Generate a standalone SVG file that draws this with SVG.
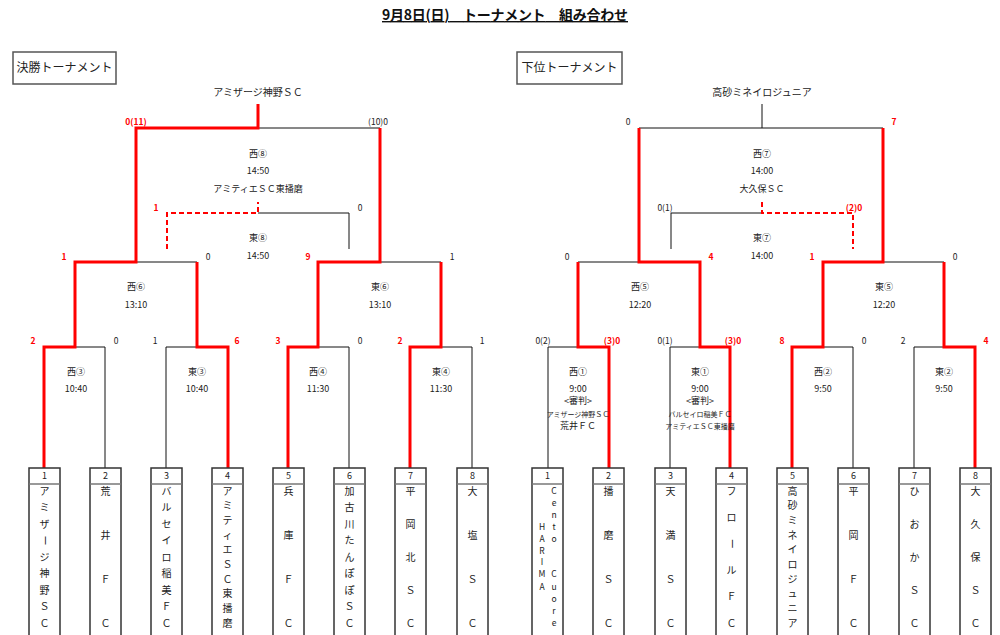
<svg xmlns="http://www.w3.org/2000/svg" width="1000" height="635" viewBox="0 0 1000 635">
<style>
text{font-family:"Noto Sans CJK JP","Liberation Sans",sans-serif;font-size:9px;text-anchor:middle;fill:#222}
.k{stroke:#111;stroke-width:1;fill:none}
.r{stroke:#ff0000;stroke-width:3;fill:none;stroke-linejoin:miter}
.rd{stroke:#ff0000;stroke-width:2;fill:none;stroke-dasharray:5,3}
.s{font-size:8.5px}
.sr{font-size:8.5px;font-weight:bold;fill:#ff0000}
.nm{font-size:10px}
.sm{font-size:7px}
.lbl{fill:#fff;stroke:#555;stroke-width:1.5}
.box{fill:#fff;stroke:#333;stroke-width:1.5}
.sep{stroke:#777;stroke-width:1.5}
.v{font-size:10px}
.vl{font-size:8.5px}
.ttl{font-size:14px;font-weight:bold;text-decoration:underline;fill:#111}
</style>

<text class="ttl" x="505" y="20" textLength="246" lengthAdjust="spacing">9月8日(日)　トーナメント　組み合わせ</text>

<g id="label-final"><rect class="lbl" x="13" y="52" width="103" height="32"/><text x="64.5" y="72" style="font-size:12px">決勝トーナメント</text></g>
<g id="label-lower"><rect class="lbl" x="517" y="52" width="105" height="32"/><text x="569.5" y="72" style="font-size:12px">下位トーナメント</text></g>

<g id="connectors">
  <path class="k" d="M105,468V347H75M166,468V347H197M349,468V347H318M472,468V347H441M136,262H197M380,262H441M258,128H380M258,213H349V249"/>
  <path class="r" d="M44,468V347H75V262H136V128H258V104"/>
  <path class="r" d="M228,468V347H197V262"/>
  <path class="r" d="M288,468V347H318V262H380V128"/>
  <path class="r" d="M410,468V347H441V262"/>
  <path class="rd" d="M167,249V213H258V202"/>
  <path class="k" d="M548,468V347H578M670,468V347H700M853,468V347H823M914,468V347H944M578,262H639M883,262H944M639,128H883M762,128V104M671,249V213H762"/>
  <path class="r" d="M609,468V347H578V262"/>
  <path class="r" d="M730,468V347H700V262H639V128"/>
  <path class="r" d="M792,468V347H823V262H883V128"/>
  <path class="r" d="M975,468V347H944V262"/>
  <path class="rd" d="M762,202V213H853V249"/>
</g>

<g id="left-final">
  <text class="nm" x="258" y="96">アミザージ神野ＳＣ</text>
  <text class="sr" x="136" y="125">0(11)</text>
  <text class="s" x="378" y="125">(10)0</text>
  <text x="258" y="157">西⑧</text>
  <text x="258" y="174">14:50</text>
  <text x="258" y="192">アミティエＳＣ東播磨</text>
</g>
<g id="left-third">
  <text class="sr" x="156" y="211">1</text>
  <text class="s" x="360" y="211">0</text>
  <text x="258" y="241">東⑧</text>
  <text x="258" y="259">14:50</text>
</g>
<g id="left-semis">
  <text class="sr" x="64" y="260">1</text>
  <text class="s" x="208" y="260">0</text>
  <text class="sr" x="308" y="260">9</text>
  <text class="s" x="452" y="260">1</text>
  <text x="136" y="290">西⑥</text><text x="136" y="308">13:10</text>
  <text x="380" y="290">東⑥</text><text x="380" y="308">13:10</text>
</g>
<g id="left-r1">
  <text class="sr" x="33" y="344">2</text>
  <text class="s" x="116" y="344">0</text>
  <text class="s" x="155" y="344">1</text>
  <text class="sr" x="237" y="344">6</text>
  <text class="sr" x="278" y="344">3</text>
  <text class="s" x="360" y="344">0</text>
  <text class="sr" x="400" y="344">2</text>
  <text class="s" x="482" y="344">1</text>
  <text x="76" y="375">西③</text><text x="76" y="392">10:40</text>
  <text x="197" y="375">東③</text><text x="197" y="392">10:40</text>
  <text x="318" y="375">西④</text><text x="318" y="392">11:30</text>
  <text x="441" y="375">東④</text><text x="441" y="392">11:30</text>
</g>

<g id="right-final">
  <text class="nm" x="762" y="96">高砂ミネイロジュニア</text>
  <text class="s" x="628" y="125">0</text>
  <text class="sr" x="894" y="125">7</text>
  <text x="762" y="157">西⑦</text>
  <text x="762" y="174">14:00</text>
  <text x="762" y="192">大久保ＳＣ</text>
</g>
<g id="right-third">
  <text class="s" x="665" y="211">0(1)</text>
  <text class="sr" x="854" y="211">(2)0</text>
  <text x="762" y="241">東⑦</text>
  <text x="762" y="259">14:00</text>
</g>
<g id="right-semis">
  <text class="s" x="567" y="260">0</text>
  <text class="sr" x="711" y="260">4</text>
  <text class="sr" x="812" y="260">1</text>
  <text class="s" x="955" y="260">0</text>
  <text x="640" y="290">西⑤</text><text x="640" y="308">12:20</text>
  <text x="884" y="290">東⑤</text><text x="884" y="308">12:20</text>
</g>
<g id="right-r1">
  <text class="s" x="543" y="344">0(2)</text>
  <text class="sr" x="612" y="344">(3)0</text>
  <text class="s" x="665" y="344">0(1)</text>
  <text class="sr" x="733" y="344">(3)0</text>
  <text class="sr" x="782" y="344">8</text>
  <text class="s" x="864" y="344">0</text>
  <text class="s" x="903" y="344">2</text>
  <text class="sr" x="986" y="344">4</text>
  <text x="578" y="375">西①</text><text x="578" y="392">9:00</text>
  <text x="578" y="404">&lt;審判&gt;</text>
  <text class="sm" x="578" y="416.5">アミザージ神野ＳＣ</text>
  <text x="578" y="429">荒井ＦＣ</text>
  <text x="700" y="375">東①</text><text x="700" y="392">9:00</text>
  <text x="700" y="404">&lt;審判&gt;</text>
  <text class="sm" x="700" y="416.5">バルセイロ稲美ＦＣ</text>
  <text class="sm" x="700" y="428.5">アミティエＳＣ東播磨</text>
  <text x="823" y="375">西②</text><text x="823" y="392">9:50</text>
  <text x="944" y="375">東②</text><text x="944" y="392">9:50</text>
</g>

<g id="L1"><rect class="box" x="29" y="468" width="31" height="180"/><line class="sep" x1="29" y1="484" x2="60" y2="484"/><text x="44.5" y="479">1</text>
<text class="v"><tspan x="44.5" y="494.5">ア</tspan><tspan x="44.5" y="511">ミ</tspan><tspan x="44.5" y="527.5">ザ</tspan><tspan x="44.5" y="560.5">ジ</tspan><tspan x="44.5" y="577">神</tspan><tspan x="44.5" y="593.5">野</tspan><tspan x="44.5" y="610">Ｓ</tspan><tspan x="44.5" y="626.5">Ｃ</tspan></text>
<text class="v" x="0" y="3.5" transform="translate(44.5,540.5) rotate(90)">ー</text></g>

<g id="L2"><rect class="box" x="90" y="468" width="31" height="180"/><line class="sep" x1="90" y1="484" x2="121" y2="484"/><text x="105.5" y="479">2</text>
<text class="v"><tspan x="105.5" y="494.5">荒</tspan><tspan x="105.5" y="538.5">井</tspan><tspan x="105.5" y="582.5">Ｆ</tspan><tspan x="105.5" y="626.5">Ｃ</tspan></text></g>

<g id="L3"><rect class="box" x="151" y="468" width="31" height="180"/><line class="sep" x1="151" y1="484" x2="182" y2="484"/><text x="166.5" y="479">3</text>
<text class="v"><tspan x="166.5" y="494.5">バ</tspan><tspan x="166.5" y="511">ル</tspan><tspan x="166.5" y="527.5">セ</tspan><tspan x="166.5" y="544">イ</tspan><tspan x="166.5" y="560.5">ロ</tspan><tspan x="166.5" y="577">稲</tspan><tspan x="166.5" y="593.5">美</tspan><tspan x="166.5" y="610">Ｆ</tspan><tspan x="166.5" y="626.5">Ｃ</tspan></text></g>

<g id="L4"><rect class="box" x="212" y="468" width="31" height="180"/><line class="sep" x1="212" y1="484" x2="243" y2="484"/><text x="227.5" y="479">4</text>
<text class="v"><tspan x="227.5" y="494.5">ア</tspan><tspan x="227.5" y="509.2">ミ</tspan><tspan x="227.5" y="523.8">テ</tspan><tspan x="227.5" y="538.5">ィ</tspan><tspan x="227.5" y="553.2">エ</tspan><tspan x="227.5" y="567.8">Ｓ</tspan><tspan x="227.5" y="582.5">Ｃ</tspan><tspan x="227.5" y="597.2">東</tspan><tspan x="227.5" y="611.8">播</tspan><tspan x="227.5" y="626.5">磨</tspan></text></g>

<g id="L5"><rect class="box" x="273" y="468" width="31" height="180"/><line class="sep" x1="273" y1="484" x2="304" y2="484"/><text x="288.5" y="479">5</text>
<text class="v"><tspan x="288.5" y="494.5">兵</tspan><tspan x="288.5" y="538.5">庫</tspan><tspan x="288.5" y="582.5">Ｆ</tspan><tspan x="288.5" y="626.5">Ｃ</tspan></text></g>

<g id="L6"><rect class="box" x="334" y="468" width="31" height="180"/><line class="sep" x1="334" y1="484" x2="365" y2="484"/><text x="349.5" y="479">6</text>
<text class="v"><tspan x="349.5" y="494.5">加</tspan><tspan x="349.5" y="511">古</tspan><tspan x="349.5" y="527.5">川</tspan><tspan x="349.5" y="544">た</tspan><tspan x="349.5" y="560.5">ん</tspan><tspan x="349.5" y="577">ぽ</tspan><tspan x="349.5" y="593.5">ぽ</tspan><tspan x="349.5" y="610">Ｓ</tspan><tspan x="349.5" y="626.5">Ｃ</tspan></text></g>

<g id="L7"><rect class="box" x="395" y="468" width="31" height="180"/><line class="sep" x1="395" y1="484" x2="426" y2="484"/><text x="410.5" y="479">7</text>
<text class="v"><tspan x="410.5" y="494.5">平</tspan><tspan x="410.5" y="527.5">岡</tspan><tspan x="410.5" y="560.5">北</tspan><tspan x="410.5" y="593.5">Ｓ</tspan><tspan x="410.5" y="626.5">Ｃ</tspan></text></g>

<g id="L8"><rect class="box" x="457" y="468" width="31" height="180"/><line class="sep" x1="457" y1="484" x2="488" y2="484"/><text x="472.5" y="479">8</text>
<text class="v"><tspan x="472.5" y="494.5">大</tspan><tspan x="472.5" y="538.5">塩</tspan><tspan x="472.5" y="582.5">Ｓ</tspan><tspan x="472.5" y="626.5">Ｃ</tspan></text></g>

<g id="R1"><rect class="box" x="532" y="468" width="31" height="180"/><line class="sep" x1="532" y1="484" x2="563" y2="484"/><text x="547.5" y="479">1</text>
<text class="vl"><tspan x="554" y="494">C</tspan><tspan x="554" y="506">e</tspan><tspan x="554" y="518">n</tspan><tspan x="554" y="530">t</tspan><tspan x="554" y="542">o</tspan><tspan x="554" y="577">C</tspan><tspan x="554" y="589.5">u</tspan><tspan x="554" y="602">o</tspan><tspan x="554" y="614">r</tspan><tspan x="554" y="626">e</tspan></text>
<text class="vl"><tspan x="542" y="530">H</tspan><tspan x="542" y="542">A</tspan><tspan x="542" y="554">R</tspan><tspan x="542" y="565">I</tspan><tspan x="542" y="577">M</tspan><tspan x="542" y="589.5">A</tspan></text></g>

<g id="R2"><rect class="box" x="593" y="468" width="31" height="180"/><line class="sep" x1="593" y1="484" x2="624" y2="484"/><text x="608.5" y="479">2</text>
<text class="v"><tspan x="608.5" y="494.5">播</tspan><tspan x="608.5" y="538.5">磨</tspan><tspan x="608.5" y="582.5">Ｓ</tspan><tspan x="608.5" y="626.5">Ｃ</tspan></text></g>

<g id="R3"><rect class="box" x="655" y="468" width="31" height="180"/><line class="sep" x1="655" y1="484" x2="686" y2="484"/><text x="670.5" y="479">3</text>
<text class="v"><tspan x="670.5" y="494.5">天</tspan><tspan x="670.5" y="538.5">満</tspan><tspan x="670.5" y="582.5">Ｓ</tspan><tspan x="670.5" y="626.5">Ｃ</tspan></text></g>

<g id="R4"><rect class="box" x="716" y="468" width="31" height="180"/><line class="sep" x1="716" y1="484" x2="747" y2="484"/><text x="731.5" y="479">4</text>
<text class="v"><tspan x="731.5" y="494.5">フ</tspan><tspan x="731.5" y="520.9">ロ</tspan><tspan x="731.5" y="573.7">ル</tspan><tspan x="731.5" y="600.1">Ｆ</tspan><tspan x="731.5" y="626.5">Ｃ</tspan></text>
<text class="v" x="0" y="3.5" transform="translate(731.5,543.8) rotate(90)">ー</text></g>

<g id="R5"><rect class="box" x="777" y="468" width="31" height="180"/><line class="sep" x1="777" y1="484" x2="808" y2="484"/><text x="792.5" y="479">5</text>
<text class="v"><tspan x="792.5" y="494.5">高</tspan><tspan x="792.5" y="509.2">砂</tspan><tspan x="792.5" y="523.8">ミ</tspan><tspan x="792.5" y="538.5">ネ</tspan><tspan x="792.5" y="553.2">イ</tspan><tspan x="792.5" y="567.8">ロ</tspan><tspan x="792.5" y="582.5">ジ</tspan><tspan x="792.5" y="597.2">ュ</tspan><tspan x="792.5" y="611.8">ニ</tspan><tspan x="792.5" y="626.5">ア</tspan></text></g>

<g id="R6"><rect class="box" x="838" y="468" width="31" height="180"/><line class="sep" x1="838" y1="484" x2="869" y2="484"/><text x="853.5" y="479">6</text>
<text class="v"><tspan x="853.5" y="494.5">平</tspan><tspan x="853.5" y="538.5">岡</tspan><tspan x="853.5" y="582.5">Ｆ</tspan><tspan x="853.5" y="626.5">Ｃ</tspan></text></g>

<g id="R7"><rect class="box" x="899" y="468" width="31" height="180"/><line class="sep" x1="899" y1="484" x2="930" y2="484"/><text x="914.5" y="479">7</text>
<text class="v"><tspan x="914.5" y="494.5">ひ</tspan><tspan x="914.5" y="527.5">お</tspan><tspan x="914.5" y="560.5">か</tspan><tspan x="914.5" y="593.5">Ｓ</tspan><tspan x="914.5" y="626.5">Ｃ</tspan></text></g>

<g id="R8"><rect class="box" x="960" y="468" width="31" height="180"/><line class="sep" x1="960" y1="484" x2="991" y2="484"/><text x="975.5" y="479">8</text>
<text class="v"><tspan x="975.5" y="494.5">大</tspan><tspan x="975.5" y="527.5">久</tspan><tspan x="975.5" y="560.5">保</tspan><tspan x="975.5" y="593.5">Ｓ</tspan><tspan x="975.5" y="626.5">Ｃ</tspan></text></g>
</svg>
